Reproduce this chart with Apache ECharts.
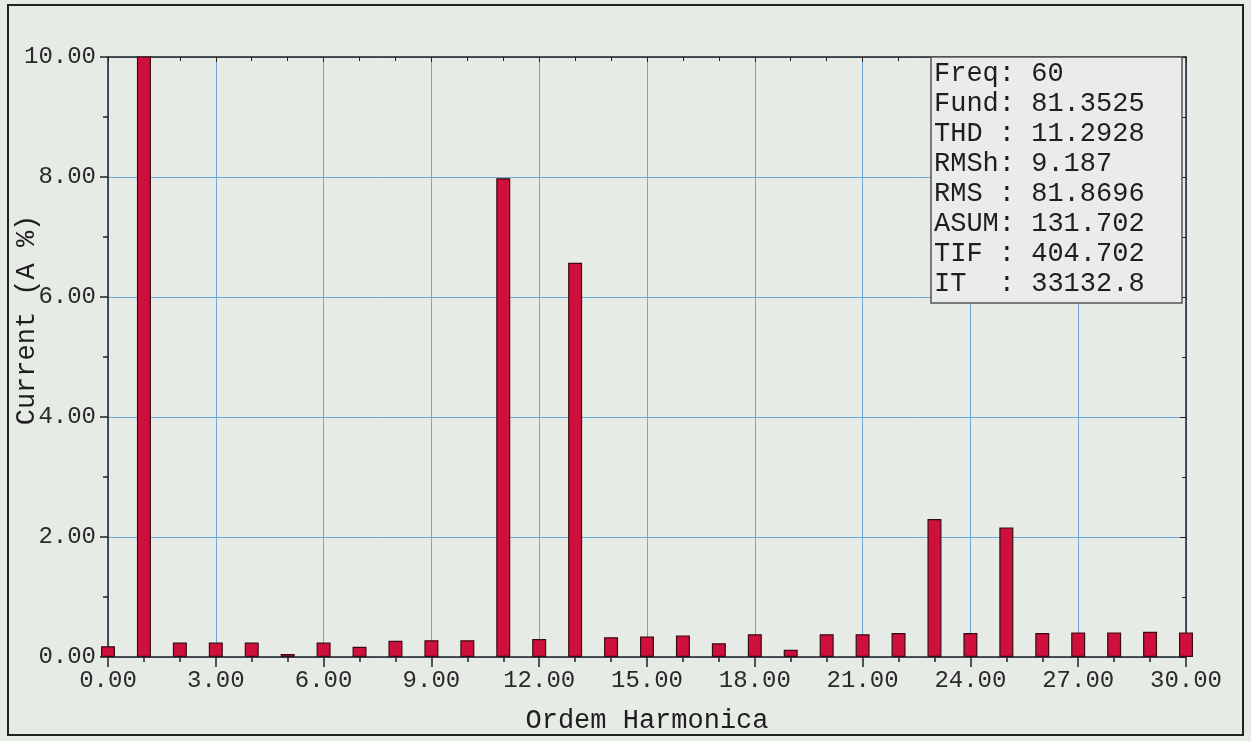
<!DOCTYPE html>
<html>
<head>
<meta charset="utf-8">
<script src="https://cdn.jsdelivr.net/npm/echarts@6/dist/echarts.min.js"></script>
<style>
html,body{margin:0;padding:0;background:#eef0ed;}
#c{width:1251px;height:741px;}
</style>
</head>
<body>
<div id="c"></div>
<script>
// Harmonic orders and current (% of fundamental)
const harmonicOrders = [0,1,2,3,4,5,6,7,8,9,10,11,12,13,14,15,16,17,18,19,20,21,22,23,24,25,26,27,28,29,30];
const currentPct = [0.18,100,0.24,0.24,0.24,0.05,0.24,0.17,0.27,0.28,0.28,7.98,0.30,6.57,0.33,0.34,0.36,0.23,0.38,0.12,0.38,0.38,0.40,2.30,0.40,2.16,0.40,0.41,0.41,0.42,0.41];
const statLabels = ['Freq','Fund','THD ','RMSh','RMS ','ASUM','TIF ','IT  '];
const statValues = ['60','81.3525','11.2928','9.187','81.8696','131.702','404.702','33132.8'];
const xAxisTitle = 'Ordem Harmonica';
const yAxisTitle = 'Current (A %)';

const font = '"Liberation Mono", "DejaVu Sans Mono", monospace';
const fmt = v => v.toFixed(2);
const data = harmonicOrders.map((h,i)=>[h,currentPct[i]]);
const statText = statLabels.map((l,i)=>l+': '+statValues[i]).join('\n');
const gridColor = '#6aa8d8';

const chart = echarts.init(document.getElementById('c'));
chart.setOption({
  backgroundColor:'#e7ebe6',
  animation:false,
  title:{
    text: statText,
    left: 931, top: 57,
    padding:[2,38,4,3],
    backgroundColor:'#e9ece8',
    borderColor:'#555',
    borderWidth:1.5,
    textStyle:{fontFamily:font,fontSize:27,fontWeight:'normal',color:'#1e1e1e',lineHeight:30}
  },
  graphic:[{
    type:'rect', shape:{x:8,y:5,width:1235,height:730},
    style:{fill:'none',stroke:'#222',lineWidth:2}, silent:true
  },{
    type:'text', x:27, y:320, rotation:Math.PI/2,
    style:{text:yAxisTitle, font:'27px "Liberation Mono", monospace', fill:'#1e1e1e', align:'center', verticalAlign:'middle'},
    silent:true
  }],
  grid:{left:108,top:57,right:65,bottom:84,show:false,containLabel:false,outerBoundsMode:'none'},
  xAxis:[{
    type:'value', min:0, max:30, interval:3,
    name:xAxisTitle, nameLocation:'middle', nameGap:50,
    nameTextStyle:{fontFamily:font,fontSize:27,color:'#1e1e1e'},
    axisLine:{show:true,onZero:false,lineStyle:{color:'#222',width:1.5}},
    axisTick:{show:true,length:10,lineStyle:{color:'#222',width:1.5}},
    minorTick:{show:true,splitNumber:3,length:5,lineStyle:{color:'#222',width:1.5}},
    axisLabel:{fontFamily:font,fontSize:24,color:'#2a2a2a',formatter:fmt,margin:12},
    splitLine:{show:true,lineStyle:{color:gridColor,width:1}}
  },{
    type:'value', position:'top', min:0, max:30, interval:3,
    axisLine:{show:true,onZero:false,lineStyle:{color:'#222',width:1.5}},
    axisTick:{show:true,inside:true,length:5,lineStyle:{color:'#222'}},
    minorTick:{show:true,splitNumber:3,length:4,lineStyle:{color:'#222'}},
    axisLabel:{show:false}, splitLine:{show:false}
  }],
  yAxis:[{
    type:'value', min:0, max:10, interval:2,
    axisLine:{show:true,onZero:false,lineStyle:{color:'#222',width:1.5}},
    axisTick:{show:true,length:8,lineStyle:{color:'#222',width:1.5}},
    minorTick:{show:true,splitNumber:2,length:5,lineStyle:{color:'#222',width:1.5}},
    axisLabel:{fontFamily:font,fontSize:24,color:'#2a2a2a',formatter:fmt,margin:12},
    splitLine:{show:true,lineStyle:{color:gridColor,width:1}}
  },{
    type:'value', position:'right', min:0, max:10, interval:2,
    axisLine:{show:true,onZero:false,lineStyle:{color:'#222',width:1.5}},
    axisTick:{show:true,inside:true,length:6,lineStyle:{color:'#222'}},
    minorTick:{show:true,splitNumber:2,length:4,lineStyle:{color:'#222'}},
    axisLabel:{show:false}, splitLine:{show:false}
  }],
  series:[{
    type:'bar', data:data, barWidth:14, clip:true,
    itemStyle:{color:'#cf0f3c',borderColor:'#3a0a12',borderWidth:1.2}
  }]
});
</script>
</body>
</html>
